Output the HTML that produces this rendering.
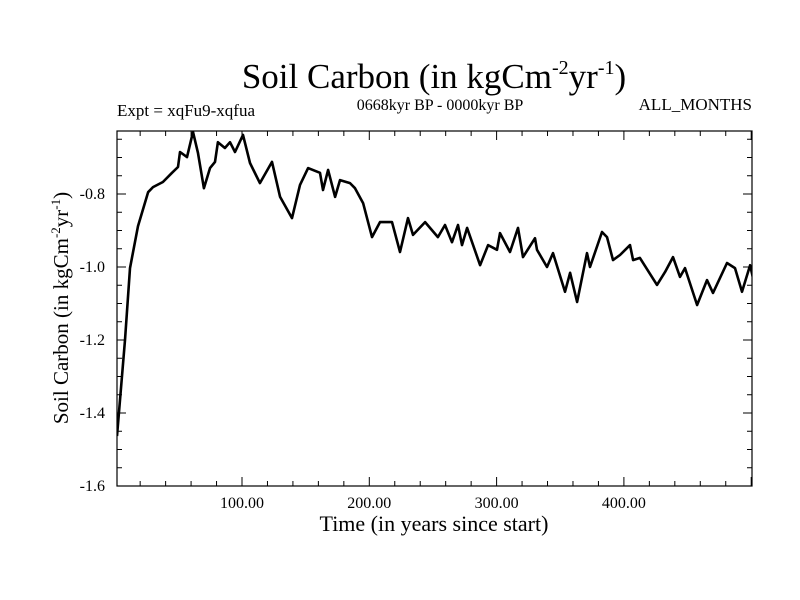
<!DOCTYPE html>
<html><head><meta charset="utf-8"><style>
body{margin:0;background:#fff}
svg{display:block;font-family:"Liberation Serif",serif}
</style></head><body>
<svg id="chart" width="800" height="600" viewBox="0 0 800 600">
<defs><clipPath id="clip"><rect x="117" y="131" width="635" height="355"/></clipPath></defs>
<text x="434" y="88" font-size="35" text-anchor="middle">Soil Carbon (in kgCm<tspan font-size="20" dy="-14">-2</tspan><tspan dy="14">yr</tspan><tspan font-size="20" dy="-14">-1</tspan><tspan dy="14">)</tspan></text>
<text x="117" y="116" font-size="17">Expt = xqFu9-xqfua</text>
<text x="440" y="110" font-size="16" text-anchor="middle">0668kyr BP - 0000kyr BP</text>
<text x="752" y="110" font-size="17" text-anchor="end">ALL_MONTHS</text>
<g id="ticks"></g>
<path id="line" clip-path="url(#clip)" fill="none" stroke="#000" stroke-width="2.6" stroke-linejoin="round"/>
<rect x="117" y="131" width="635" height="355" fill="none" stroke="#000" stroke-width="1.2"/>
<text x="434" y="531" font-size="22" text-anchor="middle">Time (in years since start)</text>
<text transform="translate(68,308) rotate(-90)" font-size="21" text-anchor="middle">Soil Carbon (in kgCm<tspan font-size="13" dy="-8">-2</tspan><tspan dy="8">yr</tspan><tspan font-size="13" dy="-8">-1</tspan><tspan dy="8">)</tspan></text>
</svg>
<script>
const years=[1.8,8.1,12.0,18.3,26.2,30.1,37.9,45.0,49.7,51.3,56.8,61.5,65.4,70.1,74.9,78.8,81.1,86.6,90.6,94.5,100.8,106.3,114.1,123.6,129.9,139.3,145.6,151.9,161.3,163.6,167.6,173.1,177.0,184.8,188.8,195.1,202.1,208.4,217.8,224.1,230.4,234.3,243.8,253.9,259.5,265.0,269.7,272.8,276.8,287.0,293.3,300.3,302.7,310.5,316.8,320.7,330.2,331.7,339.6,344.3,353.7,357.7,363.2,371.0,373.4,382.8,386.7,391.4,396.9,404.8,407.2,412.6,426.0,432.3,438.6,444.1,448.0,457.5,465.3,470.0,481.0,487.3,492.8,499.1,501.4];
const values=[-1.463,-1.200,-1.003,-0.888,-0.795,-0.781,-0.767,-0.742,-0.726,-0.685,-0.699,-0.630,-0.688,-0.784,-0.729,-0.712,-0.658,-0.674,-0.658,-0.685,-0.638,-0.715,-0.770,-0.712,-0.808,-0.866,-0.775,-0.729,-0.742,-0.789,-0.734,-0.808,-0.762,-0.770,-0.784,-0.825,-0.918,-0.877,-0.877,-0.959,-0.866,-0.912,-0.877,-0.918,-0.885,-0.932,-0.885,-0.940,-0.893,-0.995,-0.940,-0.953,-0.907,-0.959,-0.893,-0.973,-0.921,-0.953,-1.000,-0.962,-1.068,-1.016,-1.096,-0.962,-1.000,-0.904,-0.918,-0.981,-0.967,-0.940,-0.981,-0.975,-1.049,-1.014,-0.973,-1.027,-1.003,-1.104,-1.036,-1.071,-0.989,-1.003,-1.068,-0.995,-1.030];
const xTicks=[100,200,300,400];
const xTickLabels=["100.00","200.00","300.00","400.00"];
const yTicks=[-1.6,-1.4,-1.2,-1.0,-0.8];
const yTickLabels=["-1.6","-1.4","-1.2","-1.0","-0.8"];
const L=117,R=752,T=131,B=486;
const xs=v=>114.7+v*1.273;
const ys=v=>267-(v+1)*365;
const NS="http://www.w3.org/2000/svg";
document.getElementById('line').setAttribute('d',years.map((y,i)=>(i?'L':'M')+xs(y).toFixed(1)+' '+ys(values[i]).toFixed(1)).join(''));
const g=document.getElementById('ticks');
function ln(x1,y1,x2,y2,name){const l=document.createElementNS(NS,'line');
l.setAttribute('x1',x1);l.setAttribute('y1',y1);l.setAttribute('x2',x2);l.setAttribute('y2',y2);
l.setAttribute('stroke','#000');l.setAttribute('stroke-width','1');


g.appendChild(l);}
function tx(x,y,s,anchor,name){const t=document.createElementNS(NS,'text');
t.setAttribute('x',x);t.setAttribute('y',y);t.setAttribute('font-size','16');t.setAttribute('text-anchor',anchor);t.textContent=s;


g.appendChild(t);}
for(let v=20;v<=500;v+=20){const x=xs(v);if(x<L||x>R)continue;const major=v%100===0;const len=major?9:5;
ln(x,B,x,B-len,'x-tick');ln(x,T,x,T+len,'x-tick');}
xTicks.forEach((v,i)=>tx(xs(v),508,xTickLabels[i],'middle','x-tick-label'));
for(let k=0;k<=20;k++){const v=-1.6+k*0.05;const y=ys(v);if(y<T||y>B)continue;const major=k%4===0;const len=major?9:5;
ln(L,y,L+len,y,'y-tick');ln(R,y,R-len,y,'y-tick');}
yTicks.forEach((v,i)=>tx(105,ys(v)+5,yTickLabels[i],'end','y-tick-label'));
</script>
</body></html>
